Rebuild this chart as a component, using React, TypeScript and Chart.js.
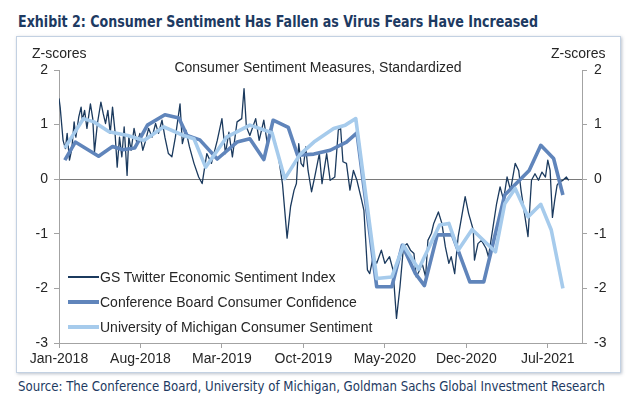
import React, { useEffect, useRef } from "react";
import { Chart, registerables } from "chart.js";

Chart.register(...registerables);

// x positions are months since Jan-2018
const tickMonths = [0, 7, 14, 21, 28, 35, 42];
const tickLabels = ["Jan-2018", "Aug-2018", "Mar-2019", "Oct-2019", "May-2020", "Dec-2020", "Jul-2021"];
const yTicks = [2, 1, 0, -1, -2, -3];

const gsMonths = [0.0,0.1,0.35,0.55,0.7,0.9,1.1,1.3,1.45,1.7,1.9,2.0,2.2,2.4,2.7,2.9,3.05,3.3,3.6,3.8,4.0,4.2,4.4,4.6,4.8,5.0,5.2,5.4,5.6,5.85,6.0,6.2,6.45,6.7,6.95,7.2,7.45,7.7,8.0,8.3,8.55,8.85,9.1,9.4,9.7,10.0,10.4,10.6,10.9,11.2,11.6,12.0,12.3,12.7,13.1,13.6,14.0,14.3,14.6,14.9,15.3,15.7,15.9,16.1,16.4,16.9,17.2,17.6,17.9,18.2,18.6,18.9,19.2,19.6,19.9,20.2,20.4,20.6,20.8,21.0,21.2,21.4,21.7,21.97,22.37,22.6,23.0,23.3,23.7,24.0,24.2,24.4,24.7,25.0,25.3,25.6,26.0,26.2,26.3,26.5,26.7,27.0,27.3,27.7,28.0,28.4,28.7,29.0,29.3,29.6,29.9,30.2,30.5,30.7,31.0,31.2,31.5,31.7,32.0,32.2,32.6,32.9,33.2,33.5,33.7,34.0,34.3,34.5,34.9,35.2,35.6,35.7,36.0,36.3,36.7,36.9,37.3,37.6,37.9,38.2,38.5,38.8,39.2,39.5,39.7,40.0,40.3,40.6,40.9,41.2,41.5,41.8,42.0,42.2,42.4,42.6,42.8,43.0,43.3,43.6,43.8];
const gsValues = [1.48,1.32,0.71,0.56,0.84,0.35,0.55,1.05,0.77,1.14,1.32,1.08,1.26,0.93,1.38,1.11,0.5,1.02,1.41,1.2,1.02,1.26,0.84,1.32,0.9,0.22,0.77,0.41,0.96,0.07,0.77,0.53,0.93,0.65,0.84,0.53,0.71,0.93,0.77,1.02,0.84,1.08,0.77,0.47,0.41,0.77,1.38,0.65,0.9,0.6,0.29,0.04,-0.08,0.47,0.29,0.71,1.11,0.47,0.86,0.41,1.05,1.11,1.66,0.96,0.8,1.11,0.71,1.08,0.65,0.95,0.65,0.35,-0.08,-1.08,-0.5,-0.2,-0.08,0.65,0.29,0.23,0.59,0.16,-0.23,0.04,0.47,-0.08,0.47,-0.02,0.04,0.9,0.93,0.32,0.29,-0.2,0.16,-0.02,-0.38,-0.57,-0.93,-1.66,-1.73,-1.42,-1.54,-1.3,-1.54,-1.42,-1.66,-2.55,-1.97,-1.24,-1.18,-1.3,-1.36,-1.79,-1.66,-1.54,-1.79,-1.12,-0.99,-0.81,-0.6,-0.81,-1.24,-1.54,-1.42,-1.73,-1.05,-0.81,-0.32,-0.63,-0.93,-1.48,-1.18,-1.12,-1.27,-1.42,-0.87,-0.45,-0.14,-0.38,0.04,-0.2,0.29,0.16,-0.2,-0.63,-1.05,-0.02,0.1,-0.02,0.13,0.04,0.35,0.16,-0.7,-0.38,-0.11,-0.05,-0.02,0.04,-0.02];

const cbMonths = [0.5,1.4,3.4,4.6,5.5,6.5,7.6,9.1,10.3,11.0,12.1,13.6,15.3,16.4,17.6,18.4,19.7,20.5,21.9,23.3,24.7,25.6,27.3,28.6,29.5,30.6,31.4,32.5,33.8,35.3,36.5,38.3,40.4,41.4,42.5,43.3];
const cbValues = [0.35,0.68,0.42,0.6,0.54,0.57,0.99,1.18,1.12,0.8,0.72,0.37,0.68,0.74,0.36,1.08,0.95,0.44,0.46,0.53,0.68,0.85,-1.97,-1.97,-1.21,-1.72,-1.95,-1.02,-1.02,-1.88,-1.88,-0.29,0.16,0.62,0.38,-0.29];

const umMonths = [0.5,2.1,3.0,4.3,5.9,7.3,9.0,10.7,11.6,12.6,14.4,16.4,18.3,19.4,20.7,21.9,23.6,24.6,25.5,27.3,28.6,29.6,30.9,32.7,33.5,34.3,35.5,37.5,38.3,39.2,40.3,41.4,42.3,43.3];
const umValues = [0.57,1.11,1.05,0.87,0.8,0.71,0.96,0.8,0.74,0.22,0.77,0.99,0.85,0.01,0.45,0.68,0.93,0.99,1.11,-1.82,-1.79,-1.21,-1.65,-0.84,-0.81,-1.3,-0.92,-1.33,-0.45,-0.17,-0.69,-0.46,-0.93,-2.0];

const seriesNames = [
  "GS Twitter Economic Sentiment Index",
  "Conference Board Consumer Confidence",
  "University of Michigan Consumer Sentiment",
];
const seriesColors = ["#1b3a5e", "#6085bb", "#a6cbec"];
const seriesWidths = [1.3, 3.6, 3.6];

const titleText = "Exhibit 2: Consumer Sentiment Has Fallen as Virus Fears Have Increased";
const sourceText = "Source: The Conference Board, University of Michigan, Goldman Sachs Global Investment Research";

const toXY = (ms: number[], vs: number[]) => ms.map((m, i) => ({ x: m, y: vs[i] }));

const FONT = '"Liberation Sans", Arial, sans-serif';
const NARROW = '"Liberation Sans Narrow", "DejaVu Sans Condensed", "Roboto Condensed", sans-serif';
const AXIS = "#a3a3a3";
const TEXT = "#262626";

function fitScale(text: string, font: string, target: number): number {
  try {
    const c = document.createElement("canvas").getContext("2d");
    if (!c) return 1;
    c.font = font;
    const w = c.measureText(text).width;
    return w > 0 ? target / w : 1;
  } catch (e) {
    return 1;
  }
}

export default function App() {
  const ref = useRef<HTMLCanvasElement | null>(null);

  useEffect(() => {
    if (!ref.current) return;
    const chart = new Chart(ref.current, {
      type: "line",
      data: {
        datasets: [
          { label: seriesNames[0], data: toXY(gsMonths, gsValues), borderColor: seriesColors[0], borderWidth: seriesWidths[0], order: 2 },
          { label: seriesNames[1], data: toXY(cbMonths, cbValues), borderColor: seriesColors[1], borderWidth: seriesWidths[1], order: 1 },
          { label: seriesNames[2], data: toXY(umMonths, umValues), borderColor: seriesColors[2], borderWidth: seriesWidths[2], order: 0 },
        ].map((d) => ({ ...d, pointRadius: 0, tension: 0, fill: false, borderJoinStyle: "round" as const })),
      },
      options: {
        animation: false,
        responsive: false,
        devicePixelRatio: 1,
        layout: { padding: { top: 33, left: 0, right: 0, bottom: 0 } },
        plugins: { legend: { display: false }, tooltip: { enabled: false }, title: { display: false } },
        scales: {
          x: {
            type: "linear",
            min: 0,
            max: 44.94,
            afterBuildTicks: (s: any) => {
              s.ticks = tickMonths.map((v) => ({ value: v }));
            },
            afterFit: (s: any) => {
              s.height = 29;
            },
            ticks: {
              autoSkip: false,
              maxRotation: 0,
              padding: 3,
              color: TEXT,
              font: { family: FONT, size: 14 },
              callback: (v: any) => {
                const i = tickMonths.indexOf(Number(v));
                return i >= 0 ? tickLabels[i] : "";
              },
            },
            grid: { drawOnChartArea: false, drawTicks: true, tickLength: 5, tickColor: AXIS },
            border: { display: true, color: AXIS, width: 1 },
          },
          y: {
            type: "linear",
            position: "left",
            min: -3,
            max: 2,
            afterBuildTicks: (s: any) => {
              s.ticks = yTicks.map((v) => ({ value: v }));
            },
            afterFit: (s: any) => {
              s.width = 42;
            },
            ticks: { padding: 6, color: TEXT, font: { family: FONT, size: 14 }, callback: (v: any) => String(v) },
            grid: {
              drawOnChartArea: true,
              tickLength: 5,
              tickColor: AXIS,
              color: (ctx: any) => (ctx.tick && ctx.tick.value === 0 ? "#7a7a7a" : "rgba(0,0,0,0)"),
            },
            border: { display: true, color: AXIS, width: 1 },
          },
          y2: {
            type: "linear",
            position: "right",
            min: -3,
            max: 2,
            afterBuildTicks: (s: any) => {
              s.ticks = yTicks.map((v) => ({ value: v }));
            },
            afterFit: (s: any) => {
              s.width = 38;
            },
            ticks: { padding: 7, color: TEXT, font: { family: FONT, size: 14 }, callback: (v: any) => String(v) },
            grid: { drawOnChartArea: false, tickLength: 5, tickColor: AXIS },
            border: { display: true, color: AXIS, width: 1 },
          },
        },
      } as any,
    });
    return () => chart.destroy();
  }, []);

  const abs = (s: React.CSSProperties): React.CSSProperties => ({ position: "absolute", whiteSpace: "nowrap", ...s });
  const titleScale = fitScale(titleText, `bold 16.5px ${NARROW}`, 520);
  const sourceScale = fitScale(sourceText, `14.5px ${NARROW}`, 587);

  return (
    <div style={{ position: "absolute", left: 0, top: 0, width: 630, height: 401, background: "#fff", overflow: "hidden", fontFamily: FONT }}>
      <div
        style={abs({
          left: 18,
          top: 12,
          fontFamily: NARROW,
          fontWeight: "bold",
          fontSize: 16.5,
          color: "#1d3a62",
          lineHeight: "20px",
          transform: `scaleX(${titleScale})`,
          transformOrigin: "0 0",
        })}
      >
        {titleText}
      </div>
      <div
        style={abs({
          left: 16,
          top: 36,
          width: 603,
          height: 335,
          border: "1px solid #c3d1e2",
          boxShadow: "1px 1px 3px rgba(60,80,110,0.35)",
          background: "#fff",
        })}
      />
      <canvas ref={ref} width={603} height={335} style={{ position: "absolute", left: 17, top: 37, width: 603, height: 335 }} />
      <div style={abs({ left: 32, top: 44, fontSize: 14, color: TEXT, lineHeight: "18px" })}>Z-scores</div>
      <div style={abs({ left: 551, top: 44, fontSize: 14, color: TEXT, lineHeight: "18px" })}>Z-scores</div>
      <div style={abs({ left: 172, top: 58, fontSize: 14, color: TEXT, lineHeight: "18px", width: 292, textAlign: "center" })}>
        Consumer Sentiment Measures, Standardized
      </div>
      {seriesNames.map((n, i) => (
        <React.Fragment key={n}>
          <div
            style={abs({
              left: 68,
              top: 277 + i * 25 - seriesWidths[i] / 2,
              width: 31,
              height: seriesWidths[i],
              background: seriesColors[i],
            })}
          />
          <div style={abs({ left: 100, top: 268 + i * 25, fontSize: 14, color: TEXT, lineHeight: "18px" })}>{n}</div>
        </React.Fragment>
      ))}
      <div
        style={abs({
          left: 18,
          top: 377,
          fontFamily: NARROW,
          fontSize: 14.5,
          color: "#1d3a62",
          lineHeight: "18px",
          transform: `scaleX(${sourceScale})`,
          transformOrigin: "0 0",
        })}
      >
        {sourceText}
      </div>
    </div>
  );
}
